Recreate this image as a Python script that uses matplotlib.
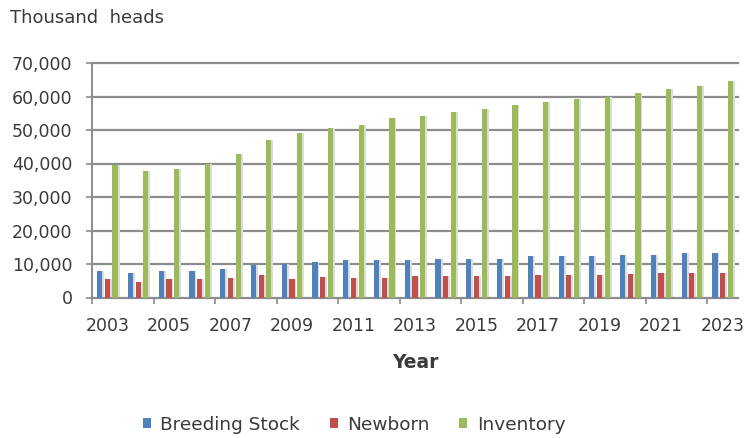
import numpy as np
import matplotlib.pyplot as plt
from matplotlib.ticker import FuncFormatter, FixedLocator

# livestock numbers, thousand heads
years = list(range(2003, 2024))
breeding_stock = [8000, 7300, 7900, 7900, 8500, 9600, 10000, 10700, 11300, 11300,
                  11100, 11600, 11500, 11600, 12300, 12300, 12300, 12600, 12600, 13300, 13300]
newborn = [5600, 4600, 5600, 5600, 5900, 6600, 5600, 6000, 5900, 5900,
           6500, 6500, 6500, 6500, 6800, 6800, 6800, 7000, 7300, 7300, 7300]
inventory = [39700, 37700, 38500, 40000, 42700, 46900, 49100, 50600, 51500, 53600,
             54100, 55300, 56400, 57400, 58300, 59300, 59800, 61100, 62100, 63100, 64600]

series = [("Breeding Stock", breeding_stock, "#4f81bd"),
          ("Newborn", newborn, "#c0504d"),
          ("Inventory", inventory, "#9bbb59")]

plt.rcParams['font.family'] = ['DejaVu Sans']
txt = "#3a3a3a"
grid_col = "#8c8c8c"

fig = plt.figure(figsize=(7.47, 4.38), dpi=100)
ax = fig.add_axes([92 / 747, 1 - 297.5 / 438, (738 - 92) / 747, (297.5 - 63) / 438])

x = np.arange(len(years))
w = 0.17
offs = [-0.25, 0.0, 0.25]
for (name, vals, col), off in zip(series, offs):
    # soft drop shadow behind each bar
    ax.bar(x + off + 0.06, vals, w, color="#dcdcdc", zorder=2)
    ax.bar(x + off, vals, w, color=col, label=name, zorder=3)

ax.set_xlim(-0.5, len(years) - 0.5)
ax.set_ylim(0, 70000)
ax.set_yticks(range(0, 70001, 10000))
ax.yaxis.set_major_formatter(FuncFormatter(lambda v, p: f"{int(v):,}"))
ax.grid(axis="y", color=grid_col, linewidth=1.6, zorder=0)
ax.set_axisbelow(True)
for gl in ax.get_ygridlines():
    gl.set_clip_on(False)

# labels every other year, tick marks on group boundaries
ax.set_xticks(x[::2])
ax.set_xticklabels([str(y) for y in years[::2]])
ax.xaxis.set_minor_locator(FixedLocator(x[::2] - 0.5))
ax.tick_params(axis="x", which="major", length=0, pad=14, labelsize=12.5, labelcolor=txt)
ax.tick_params(axis="x", which="minor", length=4, width=1.2, color=grid_col)
ax.tick_params(axis="y", length=4, width=1.2, color=grid_col, pad=10,
               labelsize=12.5, labelcolor=txt)

for s in ["top", "right"]:
    ax.spines[s].set_visible(False)
for s in ["bottom", "left"]:
    ax.spines[s].set_color(grid_col)
    ax.spines[s].set_linewidth(1.4)

ax.set_xlabel("Year", fontsize=13.5, fontweight="bold", color=txt, labelpad=13)
fig.text(10 / 747, 1 - 18 / 438, "Thousand  heads", fontsize=13, color=txt, va="center")

ax.legend(loc="center", bbox_to_anchor=(354 / 747, 1 - 425 / 438), bbox_transform=fig.transFigure,
          ncol=3, frameon=False, fontsize=13.3, handlelength=0.45, handleheight=0.45,
          handletextpad=0.5, columnspacing=1.6, labelcolor=txt)

fig.savefig("out.png", dpi=100)
